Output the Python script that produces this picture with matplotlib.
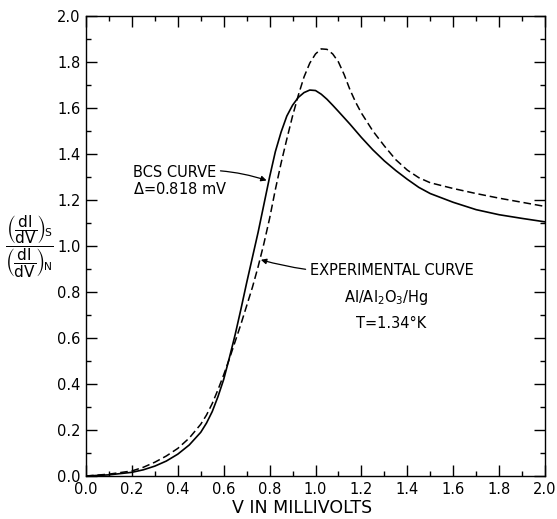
import matplotlib
matplotlib.use("Agg")
import matplotlib.pyplot as plt
from matplotlib.ticker import MultipleLocator, FormatStrFormatter

# BCS theoretical curve (solid)
bcs_v = [0.0, 0.1, 0.2, 0.25, 0.3, 0.35, 0.4, 0.45, 0.5, 0.525, 0.55, 0.575,
         0.6, 0.625, 0.65, 0.675, 0.7, 0.725, 0.75, 0.775, 0.8, 0.825, 0.85,
         0.875, 0.9, 0.925, 0.95, 0.975, 1.0, 1.025, 1.05, 1.075, 1.1, 1.15,
         1.2, 1.25, 1.3, 1.35, 1.4, 1.45, 1.5, 1.6, 1.7, 1.8, 1.9, 2.0]
bcs_g = [0.0, 0.005, 0.016, 0.027, 0.043, 0.065, 0.095, 0.135, 0.19, 0.23,
         0.28, 0.345, 0.42, 0.515, 0.615, 0.725, 0.84, 0.95, 1.06, 1.18, 1.30,
         1.41, 1.495, 1.565, 1.612, 1.646, 1.667, 1.678, 1.676, 1.66, 1.638,
         1.612, 1.585, 1.53, 1.472, 1.418, 1.37, 1.328, 1.29, 1.255, 1.228,
         1.19, 1.158, 1.136, 1.12, 1.105]

# Experimental curve Al/Al2O3/Hg (dashed)
exp_v = [0.0, 0.1, 0.2, 0.25, 0.3, 0.35, 0.4, 0.45, 0.5, 0.525, 0.55, 0.575,
         0.6, 0.625, 0.65, 0.675, 0.7, 0.725, 0.75, 0.775, 0.8, 0.825, 0.85,
         0.875, 0.9, 0.925, 0.95, 0.975, 1.0, 1.025, 1.05, 1.075, 1.1, 1.125,
         1.15, 1.175, 1.2, 1.25, 1.3, 1.35, 1.4, 1.45, 1.5, 1.6, 1.7, 1.8,
         1.9, 2.0]
exp_g = [0.0, 0.008, 0.022, 0.038, 0.06, 0.087, 0.12, 0.165, 0.225, 0.265,
         0.315, 0.375, 0.44, 0.51, 0.585, 0.66, 0.74, 0.82, 0.91, 1.01, 1.12,
         1.245, 1.36, 1.465, 1.565, 1.655, 1.735, 1.795, 1.835, 1.857, 1.855,
         1.835, 1.80, 1.745, 1.68, 1.625, 1.578, 1.50, 1.435, 1.375, 1.33,
         1.297, 1.275, 1.25, 1.228, 1.208, 1.19, 1.172]

plt.rcParams['font.family'] = ['DejaVu Sans']

fig = plt.figure(figsize=(5.57, 5.19), dpi=100)
ax = fig.add_axes([86/557, 43/519, 459/557, 460/519])

ax.plot(bcs_v, bcs_g, color='black', lw=1.2)
ax.plot(exp_v, exp_g, color='black', lw=1.1, dashes=(5, 2.5))

ax.set_xlim(0, 2.0)
ax.set_ylim(0, 2.0)
ax.xaxis.set_major_locator(MultipleLocator(0.2))
ax.xaxis.set_minor_locator(MultipleLocator(0.1))
ax.yaxis.set_major_locator(MultipleLocator(0.2))
ax.yaxis.set_minor_locator(MultipleLocator(0.1))
ax.xaxis.set_major_formatter(FormatStrFormatter('%.1f'))
ax.yaxis.set_major_formatter(FormatStrFormatter('%.1f'))
ax.tick_params(which='both', direction='in', top=True, right=True,
               labelsize=10.5, width=1.0, pad=4)
ax.tick_params(which='major', length=8)
ax.tick_params(which='minor', length=3.5)
for s in ax.spines.values():
    s.set_linewidth(1.0)

fig.text(302/557, 1 - 508/519, 'V IN MILLIVOLTS', ha='center', va='center',
         fontsize=12.5)

fig.text(29/557, 1 - 247/519,
         r'$\dfrac{\left(\dfrac{\mathrm{dI}}{\mathrm{dV}}\right)_{\!\mathrm{S}}}'
         r'{\left(\dfrac{\mathrm{dI}}{\mathrm{dV}}\right)_{\!\mathrm{N}}}$',
         ha='center', va='center', fontsize=11)

# Annotations
ax.annotate('BCS CURVE', xy=(0.787, 1.285), xytext=(0.205, 1.32),
            fontsize=10.5, ha='left', va='center',
            arrowprops=dict(arrowstyle='-|>', color='black', lw=0.9,
                            mutation_scale=8,
                            connectionstyle='arc3,rad=-0.12',
                            shrinkA=1, shrinkB=0),
            annotation_clip=False)
ax.text(0.205, 1.25, r'$\Delta$=0.818 mV', fontsize=10.5, ha='left',
        va='center')

ax.annotate('EXPERIMENTAL CURVE', xy=(0.762, 0.94), xytext=(0.975, 0.895),
            fontsize=10.5, ha='left', va='center',
            arrowprops=dict(arrowstyle='-|>', color='black', lw=0.9,
                            mutation_scale=8,
                            connectionstyle='arc3,rad=-0.1',
                            shrinkA=1, shrinkB=0))
ax.text(1.31, 0.775, r'Al/Al$_2$O$_3$/Hg', fontsize=10.5, ha='center',
        va='center')
ax.text(1.33, 0.665, 'T=1.34°K', fontsize=10.5, ha='center', va='center')

fig.savefig('out.png', dpi=100)
